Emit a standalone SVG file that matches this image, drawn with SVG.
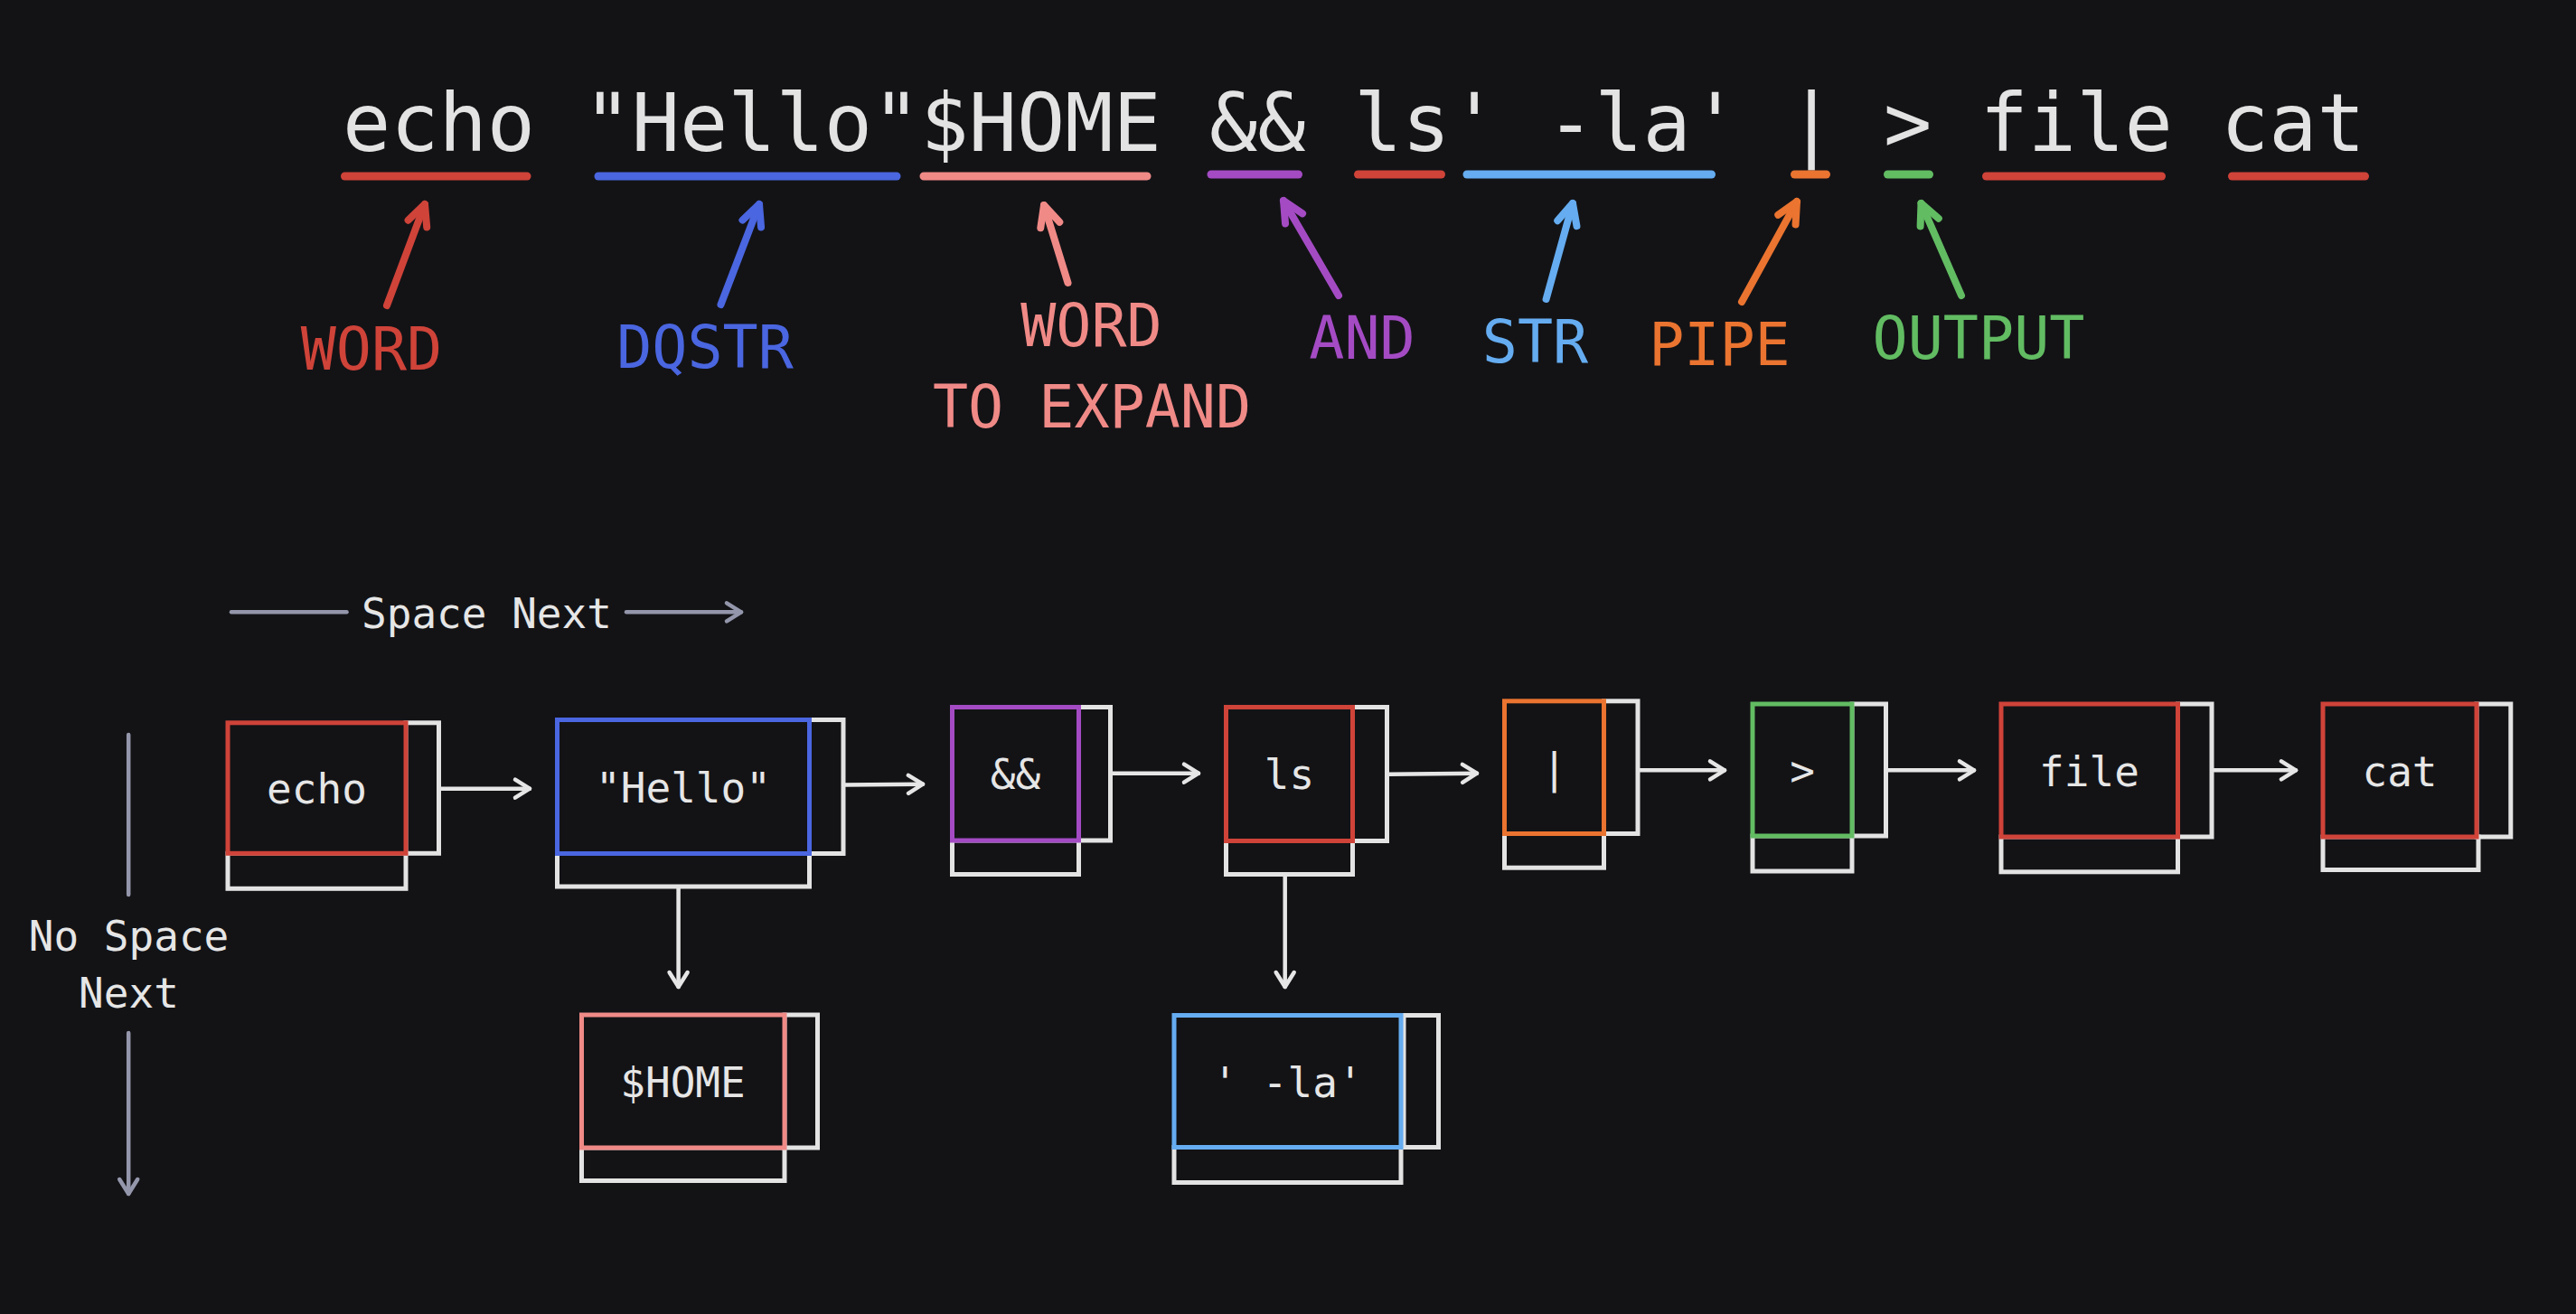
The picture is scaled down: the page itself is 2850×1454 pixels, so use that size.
<svg xmlns="http://www.w3.org/2000/svg" width="2850" height="1454" viewBox="0 0 2850 1454">
<style>
.mono{font-family:"DejaVu Sans Mono","Liberation Mono",monospace}
.title{font-size:88.5px;fill:#e3e3e3}
.lbl{font-size:65px;text-anchor:middle}
.ntxt{font-size:46px;fill:#e6e6e6;text-anchor:middle}
.box{fill:none;stroke:#e3e3e3;stroke-width:5}
.main{fill:#131316;stroke-width:5}
.ul{stroke-width:9;stroke-linecap:round;fill:none}
.ta{stroke-width:8;stroke-linecap:round;fill:none}
.conn{stroke:#e6e6e6;stroke-width:4.5;fill:none;stroke-linecap:round}
.gray{stroke:#9497ab;stroke-width:4.5;fill:none;stroke-linecap:round}
</style>
<defs>
<marker id="mw" markerUnits="userSpaceOnUse" viewBox="-20 -14 28 28" markerWidth="28" markerHeight="28" refX="0" refY="0" orient="auto" overflow="visible"><path d="M-16,-10 L0,0 L-16,10" fill="none" stroke="#e6e6e6" stroke-width="4.5" stroke-linecap="round" stroke-linejoin="round"/></marker>
<marker id="mg" markerUnits="userSpaceOnUse" viewBox="-20 -14 28 28" markerWidth="28" markerHeight="28" refX="0" refY="0" orient="auto" overflow="visible"><path d="M-16,-10 L0,0 L-16,10" fill="none" stroke="#9497ab" stroke-width="4.5" stroke-linecap="round" stroke-linejoin="round"/></marker>
<marker id="m-red" markerUnits="userSpaceOnUse" viewBox="-30 -16 36 32" markerWidth="36" markerHeight="32" refX="0" refY="0" orient="auto" overflow="visible"><path d="M-23,-11 L0,0 L-23,11" fill="none" stroke="#cf4339" stroke-width="8" stroke-linecap="round" stroke-linejoin="round"/></marker>
<marker id="m-blue" markerUnits="userSpaceOnUse" viewBox="-30 -16 36 32" markerWidth="36" markerHeight="32" refX="0" refY="0" orient="auto" overflow="visible"><path d="M-23,-11 L0,0 L-23,11" fill="none" stroke="#4a66e0" stroke-width="8" stroke-linecap="round" stroke-linejoin="round"/></marker>
<marker id="m-pink" markerUnits="userSpaceOnUse" viewBox="-30 -16 36 32" markerWidth="36" markerHeight="32" refX="0" refY="0" orient="auto" overflow="visible"><path d="M-23,-11 L0,0 L-23,11" fill="none" stroke="#f08a87" stroke-width="8" stroke-linecap="round" stroke-linejoin="round"/></marker>
<marker id="m-purple" markerUnits="userSpaceOnUse" viewBox="-30 -16 36 32" markerWidth="36" markerHeight="32" refX="0" refY="0" orient="auto" overflow="visible"><path d="M-23,-11 L0,0 L-23,11" fill="none" stroke="#a44bc4" stroke-width="8" stroke-linecap="round" stroke-linejoin="round"/></marker>
<marker id="m-lblue" markerUnits="userSpaceOnUse" viewBox="-30 -16 36 32" markerWidth="36" markerHeight="32" refX="0" refY="0" orient="auto" overflow="visible"><path d="M-23,-11 L0,0 L-23,11" fill="none" stroke="#65acf0" stroke-width="8" stroke-linecap="round" stroke-linejoin="round"/></marker>
<marker id="m-orange" markerUnits="userSpaceOnUse" viewBox="-30 -16 36 32" markerWidth="36" markerHeight="32" refX="0" refY="0" orient="auto" overflow="visible"><path d="M-23,-11 L0,0 L-23,11" fill="none" stroke="#ea7430" stroke-width="8" stroke-linecap="round" stroke-linejoin="round"/></marker>
<marker id="m-green" markerUnits="userSpaceOnUse" viewBox="-30 -16 36 32" markerWidth="36" markerHeight="32" refX="0" refY="0" orient="auto" overflow="visible"><path d="M-23,-11 L0,0 L-23,11" fill="none" stroke="#62bc62" stroke-width="8" stroke-linecap="round" stroke-linejoin="round"/></marker>
</defs>
<rect width="2850" height="1454" fill="#131316"/>

<g id="command">
<text class="mono title" x="379" y="167" xml:space="preserve">echo "Hello"$HOME &amp;&amp; ls' -la' | &gt; file cat</text>
<line class="ul" x1="381.5" y1="195" x2="583" y2="195" stroke="#cf4339"/>
<line class="ul" x1="662" y1="195" x2="992" y2="195" stroke="#4a66e0"/>
<line class="ul" x1="1022" y1="195" x2="1269" y2="195" stroke="#f08a87"/>
<line class="ul" x1="1340" y1="193" x2="1436.5" y2="193" stroke="#a44bc4"/>
<line class="ul" x1="1502.5" y1="193" x2="1594.5" y2="193" stroke="#cf4339"/>
<line class="ul" x1="1623" y1="193" x2="1893.5" y2="193" stroke="#65acf0"/>
<line class="ul" x1="1985.5" y1="193" x2="2020.5" y2="193" stroke="#ea7430"/>
<line class="ul" x1="2088.5" y1="193" x2="2134.5" y2="193" stroke="#62bc62"/>
<line class="ul" x1="2197.5" y1="195" x2="2391.5" y2="195" stroke="#cf4339"/>
<line class="ul" x1="2469.5" y1="195" x2="2616.5" y2="195" stroke="#cf4339"/>
</g>

<g id="token-labels">
<line class="ta" x1="428" y1="338" x2="470" y2="226" stroke="#cf4339" marker-end="url(#m-red)"/>
<line class="ta" x1="797.5" y1="337" x2="840" y2="226" stroke="#4a66e0" marker-end="url(#m-blue)"/>
<line class="ta" x1="1181.5" y1="313" x2="1155" y2="227" stroke="#f08a87" marker-end="url(#m-pink)"/>
<line class="ta" x1="1481" y1="327" x2="1420" y2="222" stroke="#a44bc4" marker-end="url(#m-purple)"/>
<line class="ta" x1="1710.6" y1="331" x2="1740" y2="225" stroke="#65acf0" marker-end="url(#m-lblue)"/>
<line class="ta" x1="1927" y1="334" x2="1988" y2="223" stroke="#ea7430" marker-end="url(#m-orange)"/>
<line class="ta" x1="2170" y1="327" x2="2125.5" y2="225" stroke="#62bc62" marker-end="url(#m-green)"/>
<text class="mono lbl" x="411" y="409" fill="#cf4339">WORD</text>
<text class="mono lbl" x="780" y="407" fill="#4a66e0">DQSTR</text>
<text class="mono lbl" x="1207.5" y="383" fill="#f08a87">WORD</text>
<text class="mono lbl" x="1208" y="473" fill="#f08a87">TO EXPAND</text>
<text class="mono lbl" x="1507" y="397" fill="#a44bc4">AND</text>
<text class="mono lbl" x="1698.5" y="401" fill="#65acf0">STR</text>
<text class="mono lbl" x="1902.5" y="404" fill="#ea7430">PIPE</text>
<text class="mono lbl" x="2189" y="397" fill="#62bc62">OUTPUT</text>
</g>

<g id="legend">
<line class="gray" x1="256" y1="677.3" x2="383.5" y2="677.3"/>
<text class="mono" x="400" y="695" font-size="46" fill="#e6e6e6">Space Next</text>
<line class="gray" x1="693" y1="677.3" x2="820" y2="677.3" marker-end="url(#mg)"/>
<line class="gray" x1="142.2" y1="813" x2="142.2" y2="990"/>
<text class="mono" x="142.5" y="1051.7" font-size="46" fill="#e6e6e6" text-anchor="middle">No Space</text>
<text class="mono" x="142.5" y="1115" font-size="46" fill="#e6e6e6" text-anchor="middle">Next</text>
<line class="gray" x1="142.2" y1="1143" x2="142.2" y2="1321" marker-end="url(#mg)"/>
</g>

<g id="connectors">
<line class="conn" x1="488" y1="872.7" x2="586" y2="872.7" marker-end="url(#mw)"/>
<line class="conn" x1="935" y1="868.5" x2="1021" y2="867.7" marker-end="url(#mw)"/>
<line class="conn" x1="1231" y1="855.7" x2="1326" y2="855.7" marker-end="url(#mw)"/>
<line class="conn" x1="1537" y1="856.7" x2="1634" y2="855.7" marker-end="url(#mw)"/>
<line class="conn" x1="1814" y1="852.3" x2="1908" y2="852.3" marker-end="url(#mw)"/>
<line class="conn" x1="2089" y1="852.3" x2="2184" y2="852.3" marker-end="url(#mw)"/>
<line class="conn" x1="2449.5" y1="852.3" x2="2540" y2="852.3" marker-end="url(#mw)"/>
<line class="conn" x1="750.6" y1="983" x2="750.6" y2="1092" marker-end="url(#mw)"/>
<line class="conn" x1="1421.7" y1="970" x2="1421.7" y2="1092" marker-end="url(#mw)"/>
</g>

<g id="node-echo">
<rect class="box" x="449" y="799.8" width="36.5" height="144.5"/>
<rect class="box" x="252" y="944.3" width="197" height="39"/>
<rect class="main" x="252" y="799.8" width="197" height="144.5" stroke="#cf4339"/>
<text class="mono ntxt" x="350.5" y="889">echo</text>
</g>
<g id="node-hello">
<rect class="box" x="895.5" y="796.5" width="37.5" height="148"/>
<rect class="box" x="616.5" y="944.5" width="279" height="36.5"/>
<rect class="main" x="616.5" y="796.5" width="279" height="148" stroke="#4a66e0"/>
<text class="mono ntxt" x="756" y="887.5">"Hello"</text>
</g>
<g id="node-and">
<rect class="box" x="1193.5" y="782.5" width="35" height="147.5"/>
<rect class="box" x="1053.5" y="930" width="140" height="37.5"/>
<rect class="main" x="1053.5" y="782.5" width="140" height="147.5" stroke="#a44bc4"/>
<text class="mono ntxt" x="1123.5" y="873">&amp;&amp;</text>
</g>
<g id="node-ls">
<rect class="box" x="1496.5" y="782.5" width="38" height="148"/>
<rect class="box" x="1356.5" y="930.5" width="140" height="37"/>
<rect class="main" x="1356.5" y="782.5" width="140" height="148" stroke="#cf4339"/>
<text class="mono ntxt" x="1426.5" y="873">ls</text>
</g>
<g id="node-pipe">
<rect class="box" x="1774.5" y="775.8" width="37.5" height="146.7"/>
<rect class="box" x="1664.5" y="922.5" width="110" height="37.7"/>
<rect class="main" x="1664.5" y="775.8" width="110" height="146.7" stroke="#ea7430"/>
<text class="mono ntxt" x="1719.5" y="866">|</text>
</g>
<g id="node-output">
<rect class="box" x="2049" y="779" width="37.5" height="146"/>
<rect class="box" x="1939" y="925" width="110" height="39"/>
<rect class="main" x="1939" y="779" width="110" height="146" stroke="#62bc62"/>
<text class="mono ntxt" x="1994" y="869">&gt;</text>
</g>
<g id="node-file">
<rect class="box" x="2409.5" y="779" width="37.5" height="147"/>
<rect class="box" x="2214" y="926" width="195.5" height="38.8"/>
<rect class="main" x="2214" y="779" width="195.5" height="147" stroke="#cf4339"/>
<text class="mono ntxt" x="2311.5" y="869.5">file</text>
</g>
<g id="node-cat">
<rect class="box" x="2740" y="779" width="37.8" height="147"/>
<rect class="box" x="2570" y="926" width="172" height="36.5"/>
<rect class="main" x="2570" y="779" width="170" height="147" stroke="#cf4339"/>
<text class="mono ntxt" x="2655" y="869.5">cat</text>
</g>
<g id="node-home">
<rect class="box" x="868" y="1123" width="36.5" height="147"/>
<rect class="box" x="643.5" y="1270" width="224.5" height="36.5"/>
<rect class="main" x="643.5" y="1123" width="224.5" height="147" stroke="#f08a87"/>
<text class="mono ntxt" x="755.5" y="1213.5">$HOME</text>
</g>
<g id="node-str">
<rect class="box" x="1553" y="1123.5" width="38.5" height="146"/>
<rect class="box" x="1299" y="1269.5" width="251" height="39"/>
<rect class="main" x="1299" y="1123.5" width="251" height="146" stroke="#65acf0"/>
<text class="mono ntxt" x="1424.5" y="1213.5" xml:space="preserve">' -la'</text>
</g>
</svg>
